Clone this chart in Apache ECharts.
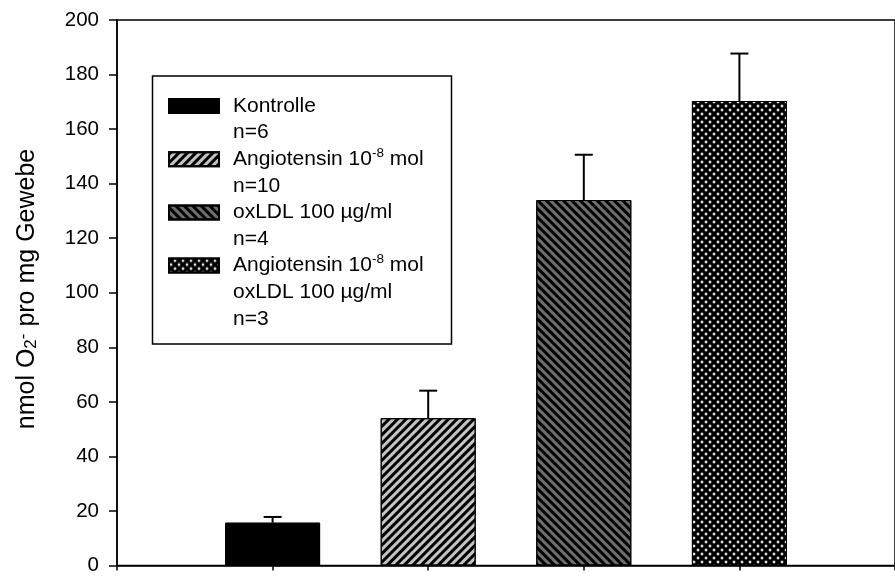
<!DOCTYPE html>
<html><head><meta charset="utf-8">
<script src="https://cdn.jsdelivr.net/npm/echarts@6/dist/echarts.min.js"></script>
<style>html,body{margin:0;padding:0;background:#fff}#c{width:895px;height:576px}</style>
</head><body><div id="c"></div>
<script>
// ---- data ----
const groups = ['Kontrolle', 'Angiotensin', 'oxLDL', 'Angiotensin + oxLDL'];
const legendLabels = [
  'Kontrolle\nn=6',
  'Angiotensin 10{sup|-8} mol\nn=10',
  'oxLDL 100 µg/ml\nn=4',
  'Angiotensin 10{sup|-8} mol\noxLDL 100 µg/ml\nn=3'
];
const means = [15.7, 54.0, 134.0, 170.3];
const errors = [2.1, 10.1, 16.6, 17.4];
const yMin = 0, yMax = 200, yStep = 20;
const yTitle = 'nmol O{sub|2}{sup|-} pro mg Gewebe';

// ---- styles ----
const FONT = 'Liberation Sans, Arial, sans-serif';
const LH = 26.6;
const fills = ['#000000', '#c4c4c4', '#6e6e6e', '#000000'];
const decals = [
  { symbol: 'none' },
  { symbol: 'rect', color: '#000', dashArrayX: [1, 0], dashArrayY: [2.2, 2.5], rotation: -Math.PI / 4, symbolSize: 1 },
  { symbol: 'rect', color: '#000', dashArrayX: [1, 0], dashArrayY: [2.2, 2.2], rotation: Math.PI / 4, symbolSize: 1 },
  { symbol: 'diamond', color: '#e4e4e4', dashArrayX: [[4, 4], [0, 4, 4, 0]], dashArrayY: [4, 0], symbolSize: 0.88 }
];

const axisCats = [''].concat(groups).concat(['']);

const barSeries = groups.map((g, i) => ({
  type: 'bar',
  name: g,
  barWidth: 95,
  barGap: '-100%',
  data: axisCats.map((c, j) => (j === i + 1 ? means[i] : '-')),
  itemStyle: { color: fills[i], borderColor: '#000', borderWidth: 1, decal: decals[i] },
  emphasis: { disabled: true },
  z: 2
}));

const errSeries = {
  type: 'custom',
  name: 'err',
  z: 3,
  silent: true,
  data: means.map((m, i) => [i + 1, m, m + errors[i]]),
  renderItem: function (params, api) {
    const x = api.value(0);
    const p0 = api.coord([x, api.value(1)]);
    const p1 = api.coord([x, api.value(2)]);
    const st = { stroke: '#000', lineWidth: 2 };
    return {
      type: 'group',
      children: [
        { type: 'line', shape: { x1: p0[0], y1: p0[1], x2: p1[0], y2: p1[1] }, style: st },
        { type: 'line', shape: { x1: p1[0] - 9, y1: p1[1], x2: p1[0] + 9, y2: p1[1] }, style: st }
      ]
    };
  }
};

// legend text padding: first line centred on the icon, uniform line spacing
const nLines = legendLabels.map(s => s.split('\n').length);
const padBottom = nLines.map((n, i) => (i === nLines.length - 1 ? 0 : LH));
const padTop = nLines.map((n, i) => (n - 1) * LH + padBottom[i]);

const chart = echarts.init(document.getElementById('c'), null, { renderer: 'canvas' });
chart.setOption({
  animation: false,
  backgroundColor: '#fff',
  grid: { left: 117, top: 20, width: 785, height: 551, show: true, borderColor: '#000', borderWidth: 1.5, backgroundColor: 'transparent' },
  xAxis: {
    type: 'category', data: axisCats, boundaryGap: false,
    axisLine: { lineStyle: { color: '#000', width: 1.5 } },
    axisTick: { length: 5, lineStyle: { color: '#000', width: 1.5 }, interval: 0 },
    axisLabel: { show: false },
    splitLine: { show: false }
  },
  yAxis: {
    type: 'value', min: yMin, max: yMax, interval: yStep,
    axisLine: { show: true, lineStyle: { color: '#000', width: 1.5 } },
    axisTick: { show: true, length: 8, lineStyle: { color: '#000', width: 1.5 } },
    axisLabel: { color: '#000', fontSize: 20.5, fontFamily: FONT, margin: 18 },
    splitLine: { show: false }
  },
  legend: {
    orient: 'vertical', left: 168, top: 105 - (padTop[0] + nLines[0] * LH + padBottom[0]) / 2 + 1,
    padding: 0, itemGap: -(LH + LH * (nLines[1] - 1) + LH),
    itemWidth: 50, itemHeight: 14, icon: 'rect', selectedMode: false,
    data: groups.map((g, i) => ({
      name: g,
      textStyle: { padding: [padTop[i], 0, padBottom[i], 9] }
    })),
    formatter: function (name) { return legendLabels[groups.indexOf(name)]; },
    textStyle: {
      color: '#000', fontSize: 21, fontFamily: FONT, lineHeight: LH,
      rich: { sup: { fontSize: 13.5, lineHeight: 12, verticalAlign: 'top', color: '#000', fontFamily: FONT } }
    }
  },
  graphic: [
    { type: 'rect', shape: { x: 152.5, y: 76, width: 299, height: 268 }, style: { fill: 'none', stroke: '#000', lineWidth: 1.5 }, z: 1 },
    { type: 'text', x: 27, y: 289, rotation: Math.PI / 2,
      style: {
        text: yTitle, fill: '#000', fontSize: 25, fontFamily: FONT, align: 'center', verticalAlign: 'middle',
        rich: {
          sub: { fontSize: 17, verticalAlign: 'bottom', lineHeight: 19, fontFamily: FONT, fill: '#000' },
          sup: { fontSize: 17, verticalAlign: 'top', lineHeight: 12, fontFamily: FONT, fill: '#000' }
        }
      }
    }
  ],
  series: barSeries.concat([errSeries])
});
</script></body></html>
